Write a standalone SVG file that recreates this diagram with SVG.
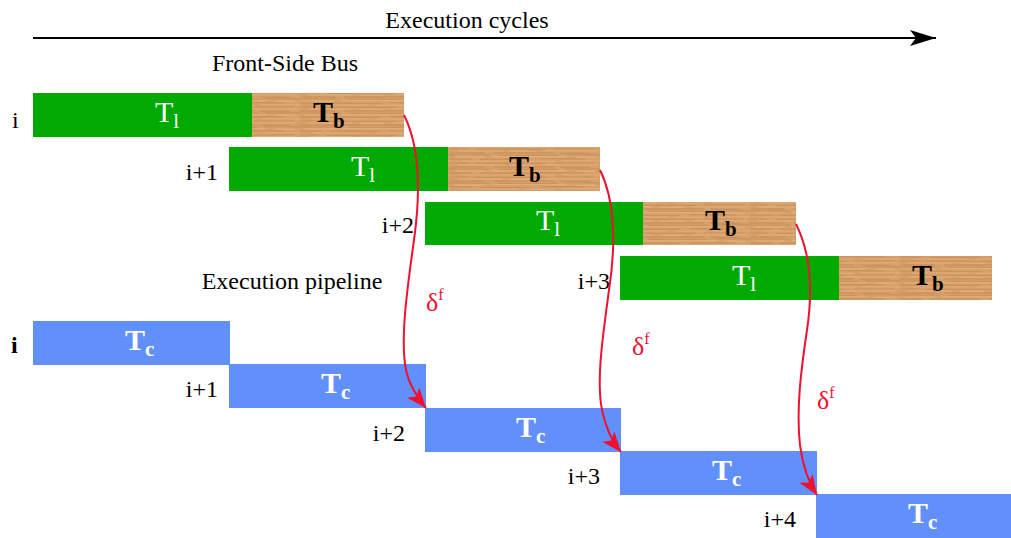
<svg xmlns="http://www.w3.org/2000/svg" width="1011" height="538" viewBox="0 0 1011 538">
<defs>
<style>
text{font-family:"Liberation Serif","Times New Roman",serif;}
.lbl{font-size:24px;fill:#000;}
.g{fill:#00aa00;}
.bl{fill:#6190fa;}
.tl{font-size:30px;fill:#fff;}
.tb{font-size:30px;fill:#000;font-weight:bold;}
.tc{font-size:30px;fill:#fff;font-weight:bold;}
.sub{font-size:21px;}
.red{fill:none;stroke:#f01030;stroke-width:2;marker-end:url(#ra);}
.d{font-size:26px;fill:#f01030;}
.sup{font-size:16px;}
</style>
<pattern id="wood" width="150" height="14" patternUnits="userSpaceOnUse">
<rect width="150" height="14" fill="#d6a06a"/>
<path d="M0 1h40M48 1.3h60M115 0.8h35" stroke="#c28650" stroke-width="0.8" opacity="0.8"/>
<path d="M5 3h30M42 2.8h75M125 3.2h20" stroke="#e9b987" stroke-width="0.9" opacity="0.8"/>
<path d="M0 5h22M30 5.2h50M90 4.8h45" stroke="#b9794a" stroke-width="0.7" opacity="0.7"/>
<path d="M12 7h55M75 7.2h30M112 6.8h38" stroke="#e2ae7a" stroke-width="1" opacity="0.8"/>
<path d="M0 9h18M26 9.3h70M104 9h40" stroke="#c5874f" stroke-width="0.8" opacity="0.8"/>
<path d="M8 11h45M60 11.2h25M92 10.8h55" stroke="#ebbd8d" stroke-width="0.8" opacity="0.7"/>
<path d="M0 13h35M44 13h60M110 13.2h30" stroke="#b27244" stroke-width="0.6" opacity="0.7"/>
</pattern>
<marker id="ra" viewBox="0 0 20 16" refX="20" refY="8" markerWidth="20" markerHeight="16" markerUnits="userSpaceOnUse" orient="auto">
<path d="M0 0L20 8L0 16L5 8Z" fill="#f01030"/>
</marker>
<marker id="ba" viewBox="0 0 26 16" refX="26" refY="8" markerWidth="26" markerHeight="16" markerUnits="userSpaceOnUse" orient="auto">
<path d="M0 0L26 8L0 16L6 8Z" fill="#000"/>
</marker>
</defs>
<rect width="1011" height="538" fill="#fff"/>
<g id="axis">
<line x1="33" y1="38" x2="936" y2="38" stroke="#000" stroke-width="2" marker-end="url(#ba)"/>
<text class="lbl" x="467" y="28" text-anchor="middle">Execution cycles</text>
</g>
<text class="lbl" x="285" y="71" text-anchor="middle">Front-Side Bus</text>
<text class="lbl" x="292" y="289" text-anchor="middle">Execution pipeline</text>

<g id="bus0">
<rect class="g" x="33" y="93" width="219" height="44"/>
<rect x="252" y="93" width="152" height="44" fill="url(#wood)"/>
<text class="tl" x="155" y="122">T<tspan class="sub" dy="6">l</tspan></text>
<text class="tb" x="313" y="122">T<tspan class="sub" dy="6">b</tspan></text>
<text class="lbl" x="12" y="128">i</text>
</g>
<g id="bus1">
<rect class="g" x="229" y="147" width="219" height="44"/>
<rect x="448" y="147" width="152" height="44" fill="url(#wood)"/>
<text class="tl" x="351" y="176">T<tspan class="sub" dy="6">l</tspan></text>
<text class="tb" x="509" y="176">T<tspan class="sub" dy="6">b</tspan></text>
<text class="lbl" x="218" y="180" text-anchor="end">i+1</text>
</g>
<g id="bus2">
<rect class="g" x="425" y="202" width="218" height="43"/>
<rect x="643" y="202" width="153" height="43" fill="url(#wood)"/>
<text class="tl" x="536" y="230">T<tspan class="sub" dy="6">l</tspan></text>
<text class="tb" x="705" y="230">T<tspan class="sub" dy="6">b</tspan></text>
<text class="lbl" x="414" y="233" text-anchor="end">i+2</text>
</g>
<g id="bus3">
<rect class="g" x="620" y="256" width="219" height="44"/>
<rect x="839" y="256" width="153" height="44" fill="url(#wood)"/>
<text class="tl" x="732" y="285">T<tspan class="sub" dy="6">l</tspan></text>
<text class="tb" x="912" y="285">T<tspan class="sub" dy="6">b</tspan></text>
<text class="lbl" x="610" y="289" text-anchor="end">i+3</text>
</g>

<g id="pipe0">
<rect class="bl" x="33" y="321" width="197" height="44"/>
<text class="tc" x="125" y="350">T<tspan class="sub" dy="6">c</tspan></text>
<text class="lbl" x="11" y="353" font-weight="bold">i</text>
</g>
<g id="pipe1">
<rect class="bl" x="229" y="364" width="197" height="44"/>
<text class="tc" x="321" y="393">T<tspan class="sub" dy="6">c</tspan></text>
<text class="lbl" x="218" y="397" text-anchor="end">i+1</text>
</g>
<g id="pipe2">
<rect class="bl" x="425" y="408" width="196" height="44"/>
<text class="tc" x="516" y="437">T<tspan class="sub" dy="6">c</tspan></text>
<text class="lbl" x="405" y="441" text-anchor="end">i+2</text>
</g>
<g id="pipe3">
<rect class="bl" x="620" y="451" width="197" height="44"/>
<text class="tc" x="712" y="480">T<tspan class="sub" dy="6">c</tspan></text>
<text class="lbl" x="600" y="484" text-anchor="end">i+3</text>
</g>
<g id="pipe4">
<rect class="bl" x="816" y="494" width="195" height="44"/>
<text class="tc" x="908" y="523">T<tspan class="sub" dy="6">c</tspan></text>
<text class="lbl" x="796" y="527" text-anchor="end">i+4</text>
</g>

<g id="connectors">
<path class="red" d="M404 115C419 145 421 190 414 240C407 290 400 340 406 370C409 385 416 396 426 408"/>
<path class="red" d="M600 170C615 200 616 245 609 290C603 335 596 380 602 410C605 425 611 440 621 452"/>
<path class="red" d="M796 224C811 254 813 290 807 330C801 370 796 410 800 445C802 460 807 480 817 495"/>
<text class="d" x="426" y="311">δ<tspan class="sup" dy="-11">f</tspan></text>
<text class="d" x="632" y="355">δ<tspan class="sup" dy="-11">f</tspan></text>
<text class="d" x="817" y="409">δ<tspan class="sup" dy="-11">f</tspan></text>
</g>
</svg>
